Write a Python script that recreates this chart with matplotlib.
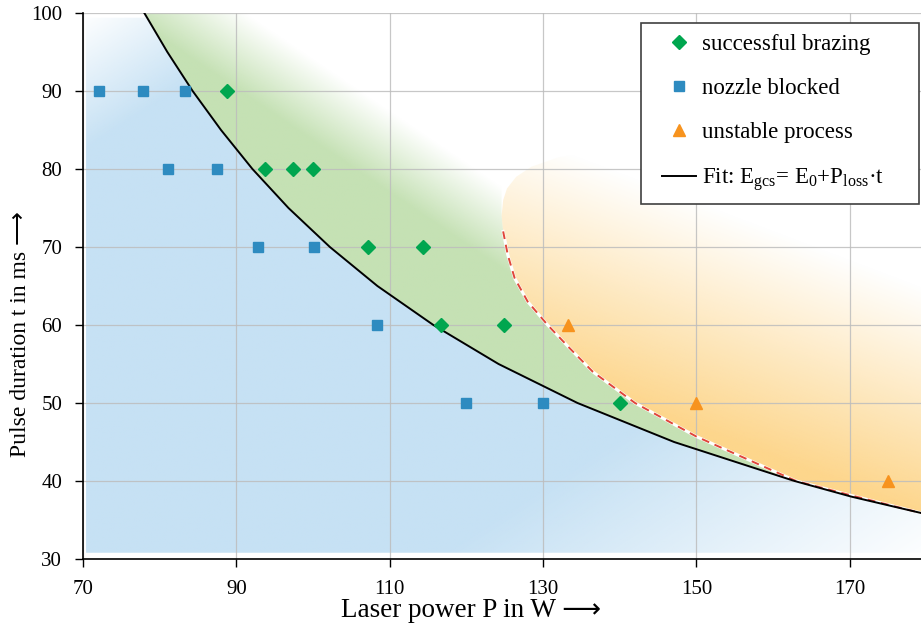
import matplotlib
matplotlib.use("Agg")
import matplotlib.pyplot as plt
import numpy as np
from matplotlib.patches import Polygon
from matplotlib.lines import Line2D
from matplotlib.legend_handler import HandlerLine2D

plt.rcParams['font.family'] = ['Liberation Serif', 'DejaVu Sans']
plt.rcParams['mathtext.fontset'] = 'custom'
plt.rcParams['mathtext.rm'] = 'Liberation Serif'
plt.rcParams['mathtext.it'] = 'Liberation Serif:italic'

# measured points
ok_p = [88.8, 93.7, 97.4, 100.0, 107.2, 114.3, 116.7, 124.9, 140.0]
ok_t = [90, 80, 80, 80, 70, 70, 60, 60, 50]
blocked_p = [72.1, 77.8, 83.3, 81.1, 87.5, 92.8, 100.1, 108.3, 119.9, 130.0]
blocked_t = [90, 90, 90, 80, 80, 70, 70, 60, 50, 50]
unstable_p = [133.2, 150.0, 175.0]
unstable_t = [60, 50, 40]

# fit curve E_gcs = E0 + P_loss*t
fit_p = [78.0, 81.0, 84.3, 88.0, 92.1, 96.8, 102.2, 108.4, 115.7, 124.2, 134.5, 147.1, 162.8, 170.2, 179.3]
fit_t = [100, 95, 90, 85, 80, 75, 70, 65, 60, 55, 50, 45, 40, 38, 35.9]

# upper limit (dashed) of the brazing window
lim_p = [124.6, 124.8, 125.4, 126.3, 128.0, 130.6, 133.5, 136.5, 142.0, 150.0, 163.0, 170.0, 179.3]
lim_t = [74, 72, 69, 66, 63, 60, 57, 54, 50, 45.7, 40, 38.2, 35.9]
# rounded top of the unstable area
cap_p = [124.8, 125.3, 126.5, 128.5, 132.0, 140.0]
cap_t = [76, 77.5, 79, 80.3, 81.5, 83]

XMIN, XMAX, YMIN, YMAX = 70, 179.3, 30, 100

fig = plt.figure(figsize=(9.21, 6.3), dpi=100)
ax = fig.add_axes([83 / 921, 71 / 630, 838 / 921, 546 / 630])
ax.set_xlim(XMIN, XMAX)
ax.set_ylim(YMIN, YMAX)

gx = np.linspace(XMIN, XMAX, 400)
gy = np.linspace(YMIN, YMAX, 300)
GX, GY = np.meshgrid(gx, gy)
nx = (GX - XMIN) / (XMAX - XMIN)
ny = (GY - YMIN) / (YMAX - YMIN)


def gradient_fill(verts, rgb, alpha):
    img = np.zeros(GX.shape + (4,))
    img[..., 0], img[..., 1], img[..., 2] = rgb
    img[..., 3] = np.clip(alpha, 0, 1)
    patch = Polygon(verts, closed=True, facecolor='none', edgecolor='none')
    ax.add_patch(patch)
    im = ax.imshow(img, extent=(XMIN, XMAX, YMIN, YMAX), origin='lower',
                   aspect='auto', interpolation='bilinear', zorder=1)
    im.set_clip_path(patch)


# blue region (nozzle blocked)
d = nx - ny
a_blue = np.minimum((d + 1.0) / 0.25, 1.0) * np.minimum((1.02 - d) / 0.6, 1.0)
blue_verts = [(70.4, 30.8), (70.4, 99.4), (78.0, 99.4)] + list(zip(fit_p, fit_t)) + [(XMAX, 30.8)]
gradient_fill(blue_verts, (198 / 255, 225 / 255, 244 / 255), a_blue)

# green region (successful brazing)
d2 = (GX - 80) / 45 + (GY - 70) / 30
a_green = (1.25 - d2) / 0.35
green_verts = (list(zip(fit_p, fit_t)) + list(zip(lim_p, lim_t))[::-1]
               + [(124.6, 80), (123, 86), (118, 93), (110, 100)])
gradient_fill(green_verts, (197 / 255, 225 / 255, 180 / 255), a_green)

# orange region (unstable process)
s = 0.7 * nx + 1.2 * ny
a_orange = (1.3 - s) / 0.5
orange_verts = list(zip(lim_p, lim_t)) + [(XMAX, 100), (160, 100)] + list(zip(cap_p, cap_t))[::-1]
gradient_fill(orange_verts, (253 / 255, 214 / 255, 140 / 255), a_orange)

ax.set_xticks(np.arange(70, 171, 20))
ax.set_yticks(np.arange(30, 101, 10))
ax.grid(True, color='#bdbdbd', linewidth=0.9, alpha=0.85)
ax.set_axisbelow(False)
for gl in ax.get_xgridlines() + ax.get_ygridlines():
    gl.set_zorder(2)

ax.plot(lim_p[1:], lim_t[1:], color='white', linewidth=2.2, zorder=3)
ax.plot(lim_p[1:], lim_t[1:], color='#e0463a', linewidth=1.4, dashes=(4, 3), zorder=3.1)
h_fit, = ax.plot(fit_p, fit_t, color='black', linewidth=1.4, zorder=3.2,
                 label='Fit: E$_{\\mathrm{gcs}}$= E$_{\\mathrm{0}}$+P$_{\\mathrm{loss}}$·t')

h_ok, = ax.plot(ok_p, ok_t, 'D', color='#00a64f', markersize=7.5, linestyle='none', zorder=4,
                label='successful brazing')
h_bl, = ax.plot(blocked_p, blocked_t, 's', color='#2e8bc0', markersize=7, linestyle='none', zorder=4,
                label='nozzle blocked')
h_un, = ax.plot(unstable_p, unstable_t, '^', color='#f7931e', markersize=8, linestyle='none', zorder=4,
                label='unstable process')

handles = [h_ok, h_bl, h_un, h_fit]
leg = ax.legend(handles, [h.get_label() for h in handles],
                loc='upper left', bbox_to_anchor=(0.666, 0.0, 0.332, 0.982), mode='expand',
                fontsize=16.5, frameon=True, fancybox=False, framealpha=1, edgecolor='#404040',
                labelspacing=1.0, handlelength=1.9, handletextpad=0.26,
                borderpad=0.5, borderaxespad=0,
                handler_map={Line2D: HandlerLine2D(xpad=0.42)})
leg.get_frame().set_linewidth(1.2)
leg.set_zorder(10)

ax.spines['top'].set_visible(False)
ax.spines['right'].set_visible(False)
ax.spines['left'].set_linewidth(1.2)
ax.spines['bottom'].set_linewidth(1.2)
ax.spines['left'].set_zorder(5)
ax.spines['bottom'].set_zorder(5)
ax.tick_params(direction='out', length=6, width=1, labelsize=15, colors='black', pad=9)

ax.set_xlabel('Laser power P in W \u27f6', fontsize=19.5)
ax.set_ylabel('Pulse duration t in ms \u27f6', fontsize=17)
ax.xaxis.set_label_coords(0.463, -0.072)
ax.yaxis.set_label_coords(-0.062, 0.412)

fig.savefig('out.png', dpi=100)
